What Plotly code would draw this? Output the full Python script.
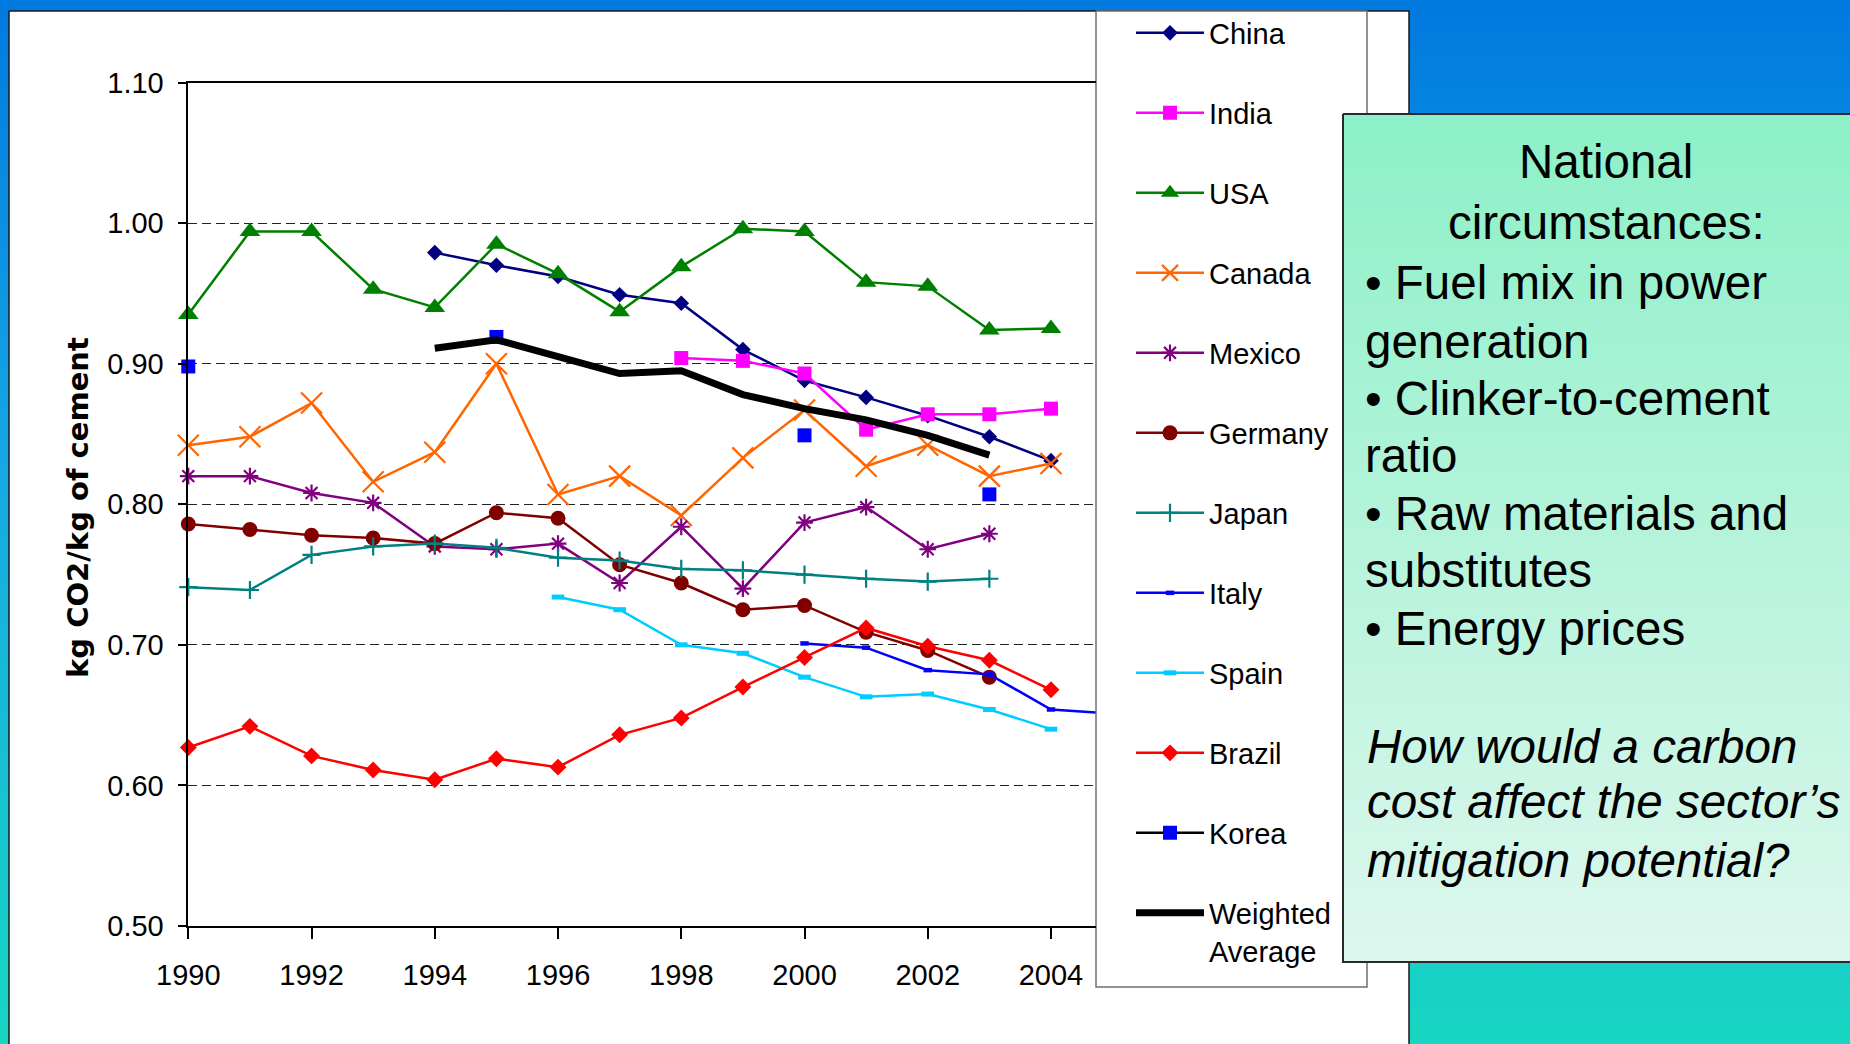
import plotly.graph_objects as go

W, H = 1850, 1044
ARIAL = "Liberation Sans, Arial, sans-serif"

# ---------------- data ----------------
years = list(range(1990, 2006))  # 1990 .. 2005

china    = [None, None, None, None, 0.979, 0.970, 0.962, 0.949, 0.943, 0.910, 0.888, 0.876, 0.863, 0.848, 0.831, None]
india    = [None, None, None, None, None, None, None, None, 0.904, 0.902, 0.893, 0.853, 0.864, 0.864, 0.868, None]
usa      = [0.935, 0.994, 0.994, 0.953, 0.940, 0.985, 0.964, 0.937, 0.969, 0.996, 0.994, 0.958, 0.955, 0.924, 0.925, None]
canada   = [0.842, 0.848, 0.872, 0.816, 0.837, 0.900, 0.807, 0.820, 0.792, 0.833, 0.867, 0.827, 0.842, 0.820, 0.829, None]
mexico   = [0.820, 0.820, 0.808, 0.801, 0.770, 0.768, 0.772, 0.744, 0.784, 0.740, 0.787, 0.798, 0.768, 0.779, None, None]
germany  = [0.786, 0.782, 0.778, 0.776, 0.772, 0.794, 0.790, 0.757, 0.744, 0.725, 0.728, 0.709, 0.696, 0.677, None, None]
japan    = [0.741, 0.739, 0.764, 0.770, 0.772, 0.769, 0.762, 0.760, 0.754, 0.753, 0.750, 0.747, 0.745, 0.747, None, None]
italy    = [None, None, None, None, None, None, None, None, None, None, 0.701, 0.698, 0.682, 0.679, 0.654, 0.651]
spain    = [None, None, None, None, None, None, 0.734, 0.725, 0.700, 0.694, 0.677, 0.663, 0.665, 0.654, 0.640, None]
brazil   = [0.627, 0.642, 0.621, 0.611, 0.604, 0.619, 0.613, 0.636, 0.648, 0.670, 0.691, 0.712, 0.699, 0.689, 0.668, None]
korea    = [0.898, None, None, None, None, 0.919, None, None, None, None, 0.849, None, None, 0.807, None, None]
weighted = [None, None, None, None, 0.911, 0.917, 0.905, 0.893, 0.895, 0.878, 0.868, 0.860, 0.849, 0.835, None, None]

series_names = ["China", "India", "USA", "Canada", "Mexico", "Germany", "Japan",
                "Italy", "Spain", "Brazil", "Korea", "Weighted<br>Average"]
series_values = [china, india, usa, canada, mexico, germany, japan,
                 italy, spain, brazil, korea, weighted]

x_ticks = [1990, 1992, 1994, 1996, 1998, 2000, 2002, 2004]
x_tick_labels = [str(v) for v in x_ticks]
y_ticks = [0.50, 0.60, 0.70, 0.80, 0.90, 1.00, 1.10]
y_tick_labels = ["%.2f" % v for v in y_ticks]

y_title = "kg CO2/kg of cement"
box_title = ["National", "circumstances:"]
box_lines = ["• Fuel mix in power", "generation", "• Clinker-to-cement", "ratio",
             "• Raw materials and", "substitutes", "• Energy prices"]
box_question = ["How would a carbon", "cost affect the sector’s", "mitigation potential?"]

# ---------------- styles ----------------
styles = {
    "China":   dict(color="#000080", symbol="diamond", size=12, lw=2.5, mlw=0),
    "India":   dict(color="#FF00FF", symbol="square", size=14, lw=2.5, mlw=0),
    "USA":     dict(color="#008000", symbol="triangle-up", size=18, lw=2.5, mlw=0),
    "Canada":  dict(color="#FF6600", symbol="x-thin-open", size=21, lw=2.5, mlw=2.2),
    "Mexico":  dict(color="#800080", symbol="asterisk-open", size=14, lw=2.5, mlw=2.2),
    "Germany": dict(color="#800000", symbol="circle", size=15, lw=2.5, mlw=0),
    "Japan":   dict(color="#008080", symbol="cross-thin-open", size=13, lw=2.5, mlw=2.2),
    "Italy":   dict(color="#0000FF", symbol="line-ew-open", size=6, lw=2.5, mlw=4.5),
    "Spain":   dict(color="#00CCFF", symbol="line-ew-open", size=9, lw=2.5, mlw=5),
    "Brazil":  dict(color="#FF0000", symbol="diamond", size=13, lw=2.5, mlw=0),
    "Korea":   dict(color="#0000FF", line_color="#000000", symbol="square", size=14, lw=2.5, mlw=0),
}

fig = go.Figure()

# ---------------- background decoration (pixel subplot 'xy') ----------------
def rect(x0, y0, x1, y1, **kw):
    return go.Scatter(x=[x0, x1, x1, x0, x0], y=[y0, y0, y1, y1, y0], mode="lines",
                      fill="toself", xaxis="x", yaxis="y", showlegend=False,
                      hoverinfo="skip", **kw)

fig.add_trace(rect(-5, -5, W + 5, H + 5, line=dict(width=0),
                   fillgradient=dict(type="vertical", start=0, stop=H,
                                     colorscale=[[0, "#0079DF"], [0.45, "#16A8E4"], [1, "#18D6C2"]])))
fig.add_trace(rect(9, 11, 1409, H + 10, fillcolor="white", line=dict(color="#1a1a1a", width=1.5)))
fig.add_trace(rect(1096, 11, 1367, 987, fillcolor="white", line=dict(color="#707070", width=1.5)))
fig.add_trace(rect(1343, 114, 1875, 962, line=dict(color="#2a2a2a", width=2),
                   fillgradient=dict(type="vertical", start=114, stop=962,
                                     colorscale=[[0, "#8CF0C8"], [1, "#DEF7EE"]])))

# ---------------- data traces (subplot x2y2) ----------------
for i, (name, vals) in enumerate(zip(series_names, series_values)):
    if name.startswith("Weighted"):
        fig.add_trace(go.Scatter(
            x=years, y=vals, name=name, mode="lines", xaxis="x2", yaxis="y2",
            line=dict(color="black", width=7), legendgroup="g%d" % i,
            connectgaps=False, cliponaxis=False))
        continue
    st = styles[name]
    fig.add_trace(go.Scatter(
        x=years, y=vals, name=name, mode="lines+markers", xaxis="x2", yaxis="y2",
        line=dict(color=st.get("line_color", st["color"]), width=st["lw"]),
        marker=dict(symbol=st["symbol"], size=st["size"], color=st["color"],
                    line=dict(color=st["color"], width=st["mlw"])),
        legendgroup="g%d" % i, connectgaps=False, cliponaxis=False))

# ---------------- annotations ----------------
ann = []
ann.append(dict(x=78, y=508, xref="x", yref="y", text=y_title, textangle=-90, showarrow=False,
                xanchor="center", yanchor="middle",
                font=dict(family="DejaVu Sans, sans-serif", size=29, color="black", weight="bold")))

FS = 47.5
mid = 0.3465 * FS
title_base = [177.5, 238.8]
for t, b in zip(box_title, title_base):
    ann.append(dict(x=1606, y=b - mid, xref="x", yref="y", text=t, showarrow=False,
                    xanchor="center", yanchor="middle", borderpad=0, borderwidth=0,
                    font=dict(family=ARIAL, size=FS, color="black")))
line_base = [299.0, 357.7, 415.3, 472.4, 530.1, 587.2, 644.9]
for t, b in zip(box_lines, line_base):
    ann.append(dict(x=1365, y=b - mid, xref="x", yref="y", text=t, showarrow=False,
                    xanchor="left", yanchor="middle", borderpad=0, borderwidth=0,
                    font=dict(family=ARIAL, size=FS, color="black")))
q_base = [763.3, 818.4, 877.0]
for t, b in zip(box_question, q_base):
    ann.append(dict(x=1367, y=b - mid, xref="x", yref="y", text=t, showarrow=False,
                    xanchor="left", yanchor="middle", borderpad=0, borderwidth=0,
                    font=dict(family=ARIAL, size=FS, color="black", style="italic")))

# ---------------- layout ----------------
x_left, x_right = 188.3, 1095.5
y_top, y_bot = 82.5, 926.0
px_per_year = 61.62
TICKFONT = dict(family=ARIAL, size=29, color="black")
fig.update_layout(
    width=W, height=H, autosize=False,
    margin=dict(l=0, r=0, t=0, b=0, pad=0, autoexpand=False),
    paper_bgcolor="white", plot_bgcolor="rgba(0,0,0,0)",
    showlegend=True,
    xaxis=dict(domain=[0, 1], range=[0, W], visible=False, fixedrange=True),
    yaxis=dict(domain=[0, 1], range=[H, 0], visible=False, fixedrange=True),
    xaxis2=dict(domain=[x_left / W, x_right / W], anchor="y2",
                range=[1990, 1990 + (x_right - x_left) / px_per_year],
                tickmode="array", tickvals=x_ticks, ticktext=x_tick_labels,
                ticks="outside", ticklen=11, tickwidth=1.5, tickcolor="black",
                showline=True, linecolor="black", linewidth=1.5, mirror=True,
                showgrid=False, zeroline=False, ticklabelstandoff=11,
                automargin=False, tickfont=TICKFONT),
    yaxis2=dict(domain=[1 - y_bot / H, 1 - y_top / H], anchor="x2",
                range=[0.5, 1.1], tickmode="array", tickvals=y_ticks, ticktext=y_tick_labels,
                ticks="outside", ticklen=9, tickwidth=1.5, tickcolor="black",
                showline=True, linecolor="black", linewidth=1.5,
                showgrid=True, gridcolor="#222222", gridwidth=1.2, griddash="9px,5px",
                zeroline=False, ticklabelstandoff=8, automargin=False,
                tickfont=TICKFONT),
    legend=dict(x=1131 / W, y=1 - 7.5 / H, xanchor="left", yanchor="top",
                bgcolor="rgba(0,0,0,0)", borderwidth=0,
                font=dict(family=ARIAL, size=29, color="black"),
                traceorder="grouped", tracegroupgap=39.3, valign="top",
                itemwidth=68, itemsizing="trace"),
    annotations=ann,
    hovermode=False,
)

fig.write_html("out.html", config={"displayModeBar": False},
               post_script="document.body.style.margin='0';document.body.style.overflow='hidden';")
